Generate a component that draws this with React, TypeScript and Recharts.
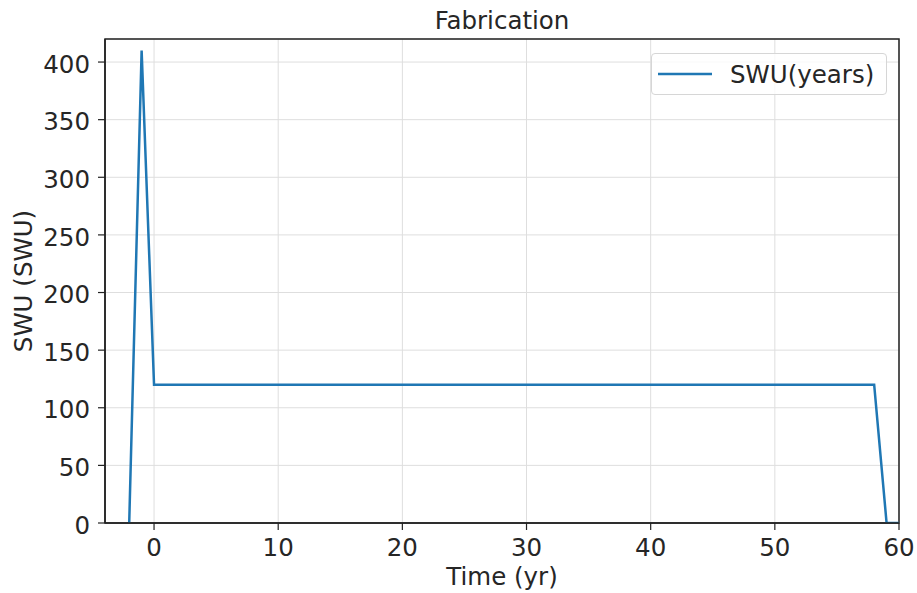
import { LineChart, Line, XAxis, YAxis, CartesianGrid, Legend, ReferenceArea } from 'recharts';

// time in years and fabrication SWU at each break point
const years = [-2, -1, 0, 58, 59, 60];
const swu = [0, 410, 120, 120, 0, 0];

const xTicks = [0, 10, 20, 30, 40, 50, 60];
const yTicks = [0, 50, 100, 150, 200, 250, 300, 350, 400];

const seriesName = 'SWU(years)';
const chartTitle = 'Fabrication';

const data = years.map((t, i) => ({ time: t, swu: swu[i] }));

const FONT = '"DejaVu Sans", sans-serif';
const FS = 24.5;
const TEXT = '#262626';
const BLUE = '#1f77b4';

const LegendBox = () => (
    <div
        style={{
            boxSizing: 'border-box',
            width: 236,
            height: 42,
            border: '1px solid #d6d6d6',
            borderRadius: 4,
            background: 'rgba(255,255,255,0.8)',
            display: 'flex',
            alignItems: 'center',
            fontFamily: FONT,
            fontSize: FS,
            color: TEXT,
        }}
    >
        <svg width={72} height={20} style={{ marginLeft: 6 }}>
            <line x1={0} y1={10} x2={54} y2={10} stroke={BLUE} strokeWidth={2.5} />
        </svg>
        <span>{seriesName}</span>
    </div>
);

const App = () => {
    return (
        <div style={{ position: 'absolute', left: 0, top: 0, width: 917, height: 593 }}>
            <div
                style={{
                    position: 'absolute',
                    left: 105,
                    width: 794,
                    top: 6,
                    textAlign: 'center',
                    fontFamily: FONT,
                    fontSize: FS,
                    color: TEXT,
                }}
            >
                {chartTitle}
            </div>
            <LineChart
                width={917}
                height={593}
                data={data}
                margin={{ top: 39, right: 18, bottom: 0, left: 10 }}
                style={{ fontFamily: FONT }}
            >
                <CartesianGrid stroke='#dedede' strokeWidth={1} />
                <XAxis
                    dataKey='time'
                    type='number'
                    domain={[-3.95, 60]}
                    ticks={xTicks}
                    allowDataOverflow
                    height={70}
                    tickSize={7}
                    tickMargin={8.5}
                    axisLine={{ stroke: '#222', strokeWidth: 1.5 }}
                    tickLine={{ stroke: '#222', strokeWidth: 1.2 }}
                    tick={{ fill: TEXT, fontSize: FS }}
                    label={{ value: 'Time (yr)', position: 'insideBottom', offset: 8, fill: TEXT, fontSize: FS }}
                />
                <YAxis
                    type='number'
                    domain={[0, 420]}
                    ticks={yTicks}
                    allowDataOverflow
                    width={95}
                    tickSize={7}
                    tickMargin={8}
                    axisLine={{ stroke: '#222', strokeWidth: 1.5 }}
                    tickLine={{ stroke: '#222', strokeWidth: 1.2 }}
                    tick={{ fill: TEXT, fontSize: FS, dy: 2 }}
                    label={{
                        value: 'SWU (SWU)',
                        angle: -90,
                        position: 'insideLeft',
                        offset: 13,
                        fill: TEXT,
                        fontSize: FS,
                        style: { textAnchor: 'middle' },
                    }}
                />
                <ReferenceArea x1={-3.95} x2={60} y1={0} y2={420} fill='none' stroke='#222' strokeWidth={1.5} />
                <Legend
                    layout='horizontal'
                    verticalAlign='middle'
                    align='center'
                    content={<LegendBox />}
                    wrapperStyle={{ position: 'absolute', top: 53, left: 651, width: 236, height: 42 }}
                />
                <Line
                    dataKey='swu'
                    name={seriesName}
                    type='linear'
                    stroke={BLUE}
                    strokeWidth={2.5}
                    dot={false}
                    isAnimationActive={false}
                />
            </LineChart>
        </div>
    );
};

export default App;
